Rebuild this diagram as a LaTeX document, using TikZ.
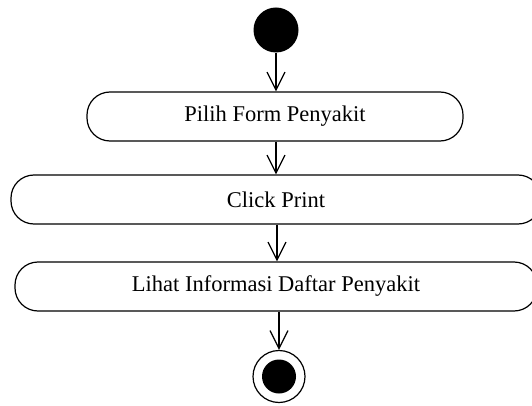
\documentclass[tikz,border=0pt]{standalone}
\usepackage{fontspec}
\setmainfont{Liberation Serif}
\usetikzlibrary{arrows.meta}
\tikzset{
  actbox/.style={draw=black, line width=1.2pt, rounded corners=23pt, rectangle,
    minimum height=49pt, inner sep=0pt, font=\fontsize{22.5}{26}\selectfont},
  flow/.style={draw=black, line width=1.2pt,
    -{Straight Barb[length=18pt,width=18pt,line width=1.2pt]}}
}
\begin{document}
\begin{tikzpicture}[x=1pt,y=-1pt]
\useasboundingbox (0,0) rectangle (532,406);
\clip (0,0) rectangle (532,406);
\node[circle, fill=black, minimum size=45pt, inner sep=0pt] (start) at (276,30) {};
\node[actbox, minimum width=376pt] (b1) at (275,116.5) {Pilih Form Penyakit};
\node[actbox, minimum width=530pt] (b2) at (276,199.5) {Click Print};
\node[actbox, minimum width=522pt] (b3) at (276,286.5) {Lihat Informasi Daftar Penyakit};
\node[circle, draw=black, line width=1.2pt, minimum size=52pt, inner sep=0pt] (end) at (279,376.5) {};
\node[circle, fill=black, minimum size=34pt, inner sep=0pt] (endin) at (end.center) {};
\draw[flow] (start.south) -- (start.south |- b1.north);
\draw[flow] (b1.south -| 276,0) -- (b2.north -| 276,0);
\draw[flow] (b2.south -| 277,0) -- (b3.north -| 277,0);
\draw[flow] (b3.south -| end.north) -- (end.north);
\end{tikzpicture}
\end{document}
